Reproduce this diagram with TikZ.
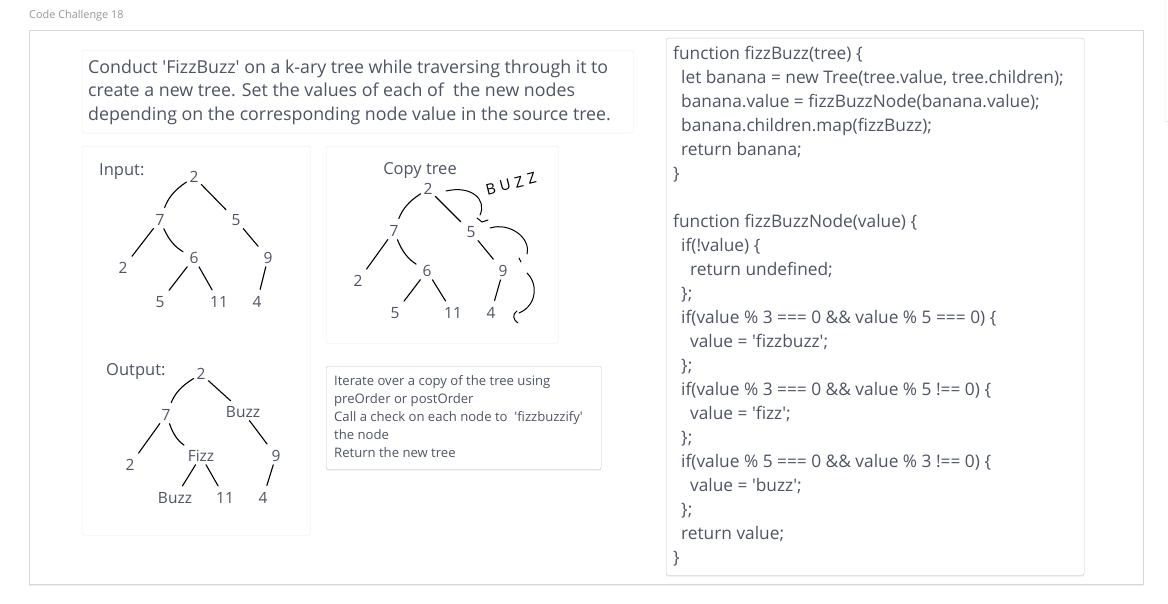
\documentclass[tikz,border=0pt]{standalone}
\usepackage{fontspec}
\setmainfont{Open Sans}[Ligatures={TeX,NoCommon}]
\usetikzlibrary{positioning}

\definecolor{inkgray}{RGB}{78,84,100}
\definecolor{titlegray}{RGB}{150,150,150}
\definecolor{cardline}{RGB}{216,216,216}
\definecolor{paneline}{RGB}{236,236,236}
\definecolor{boxline}{RGB}{200,200,200}

\newcommand{\sq}{\textquotesingle}

\tikzset{
  card/.style={draw=cardline, fill=white, rectangle, inner sep=0pt, anchor=north west},
  pane/.style={draw=paneline, fill=white, rectangle, rounded corners=1.5pt, inner sep=0pt, anchor=north west},
  box/.style={draw=boxline, fill=white, rectangle, rounded corners=2pt, inner sep=0pt, anchor=north west},
  shadowed/.style={preaction={fill=black, opacity=0.07, transform canvas={yshift=-1.5pt}}},
  tnode/.style={text=inkgray, font=\fontsize{15.5}{18}\selectfont, inner sep=2pt},
  tlabel/.style={text=inkgray, font=\fontsize{16.5}{19}\selectfont, inner sep=0pt},
  edge/.style={draw=black, line width=1.1pt, line cap=round, shorten >=5pt, shorten <=1pt},
  scrawl/.style={draw=black, line width=1pt, line cap=round},
}

\begin{document}
\begin{tikzpicture}[x=1pt, y=-1pt]
  \useasboundingbox (0,0) rectangle (1168,604);
  \fill[white] (0,0) rectangle (1168,604);

  % ---- page frame ----
  \node[anchor=west, text=titlegray, font=\fontsize{10.9}{12}\selectfont, inner sep=0pt]
    (title) at (29,16) {Code Challenge 18};
  \node[card, shadowed, minimum width=1114, minimum height=554] (card) at (29,30) {};
  \draw[cardline] (1165,0) -- (1165,121) -- (1168,122);

  % ---- task statement ----
  \node[pane, minimum width=551, minimum height=83] (intro) at (82,50) {};
  \node[anchor=west, align=left, text=inkgray, font=\fontsize{17.8}{23.5}\selectfont, inner sep=0pt]
    (introtxt) at (88,92) {Conduct \sq FizzBuzz\sq{} on a k-ary tree while traversing through it to\\
    create a new tree. Set the values of each of\ \ the new nodes\\
    depending on the corresponding node value in the source tree.};

  % ---- panes ----
  \node[pane, minimum width=228, minimum height=389] (iopane) at (82,146) {};
  \node[pane, minimum width=232, minimum height=197] (copypane) at (326,146) {};
  \node[box, shadowed, minimum width=275, minimum height=103] (note) at (326,366) {};
  \node[box, shadowed, minimum width=418, minimum height=537] (code) at (666,38) {};

  % ---- Input tree ----
  \node[tlabel, anchor=west] (inlbl) at (99,172) {Input:};
  \foreach \n/\x/\y/\t in {i2/194/177/2, i7/160/220/7, i5/236/220/5, i2b/123/268/2,
                           i6/194/258/6, i9/268/258/9, i5b/160/302/5, i11/219/302/11,
                           i4/257/302/4}
    \node[tnode] (\n) at (\x,\y) {\t};
  \draw[edge] (i2) to[bend right=18] (i7);
  \draw[edge] (i7) to[bend right=18] (i6);
  \foreach \a/\b in {i2/i5, i7/i2b, i5/i9, i6/i5b, i6/i11, i9/i4}
    \draw[edge] (\a) -- (\b);

  % ---- Output tree ----
  \node[tlabel, anchor=west] (outlbl) at (106,371) {Output:};
  \foreach \n/\x/\y/\t in {o2/201/374/2, o7/166/415/7, o5/243/412/Buzz, o2b/130/465/2,
                           o6/201/456/Fizz, o9/276/456/9, o5b/175/498/Buzz, o11/225/498/11,
                           o4/263/498/4}
    \node[tnode] (\n) at (\x,\y) {\t};
  \draw[edge] (o2) to[bend right=18] (o7);
  \draw[edge] (o7) to[bend right=18] (o6);
  \foreach \a/\b in {o2/o5, o7/o2b, o5/o9, o6/o5b, o6/o11, o9/o4}
    \draw[edge] (\a) -- (\b);

  % ---- Copy tree ----
  \node[tlabel] (copylbl) at (420,171) {Copy tree};
  \foreach \n/\x/\y/\t in {c2/428/189/2, c7/394/231/7, c5/471/232/5, c2b/358/281/2,
                           c6/427/271/6, c9/503/271/9, c5b/395/313/5, c11/453/313/11,
                           c4/491/313/4}
    \node[tnode] (\n) at (\x,\y) {\t};
  \draw[edge] (c2) to[bend right=18] (c7);
  \draw[edge] (c7) to[bend right=18] (c6);
  \foreach \a/\b in {c2/c5, c7/c2b, c5/c9, c6/c5b, c6/c11, c9/c4}
    \draw[edge] (\a) -- (\b);

  % hand-written notes
  \node[rotate=14, inner sep=0pt, font=\fontsize{15}{16}\selectfont\addfontfeature{LetterSpace=30}]
    (buzz) at (511,184) {BUZZ};
  \draw[scrawl] (446,191) .. controls (472,185) and (487,200) .. (480,215);
  \draw[scrawl] (477,218) -- (482,222) -- (488,220);
  \draw[scrawl] (490,228) .. controls (510,222) and (531,238) .. (527,254);
  \draw[scrawl] (519,258) -- (521,262);
  \draw[scrawl] (527,273) .. controls (539,285) and (536,306) .. (519,313);
  \draw[scrawl] (517,311) .. controls (512,314) and (513,320) .. (518,323);

  % ---- approach note ----
  \node[anchor=west, align=left, text=inkgray, font=\fontsize{13.1}{18}\selectfont, inner sep=0pt]
    (notetxt) at (334,417) {Iterate over a copy of the tree using\\
    preOrder or postOrder\\
    Call a check on each node to\ \ \sq fizzbuzzify\sq\\
    the node\\
    Return the new tree};

  % ---- code ----
  \node[anchor=west, align=left, text=inkgray, font=\fontsize{17.3}{24}\selectfont, inner sep=0pt]
    (codetxt) at (673,306) {function fizzBuzz(tree) \{\\
    \hspace*{8pt}let banana = new Tree(tree.value, tree.children);\\
    \hspace*{8pt}banana.value = fizzBuzzNode(banana.value);\\
    \hspace*{8pt}banana.children.map(fizzBuzz);\\
    \hspace*{8pt}return banana;\\
    \}\\
    \mbox{}\\
    function fizzBuzzNode(value) \{\\
    \hspace*{8pt}if(!value) \{\\
    \hspace*{17pt}return undefined;\\
    \hspace*{8pt}\};\\
    \hspace*{8pt}if(value \% 3 === 0 \&\& value \% 5 === 0) \{\\
    \hspace*{17pt}value = \sq fizzbuzz\sq;\\
    \hspace*{8pt}\};\\
    \hspace*{8pt}if(value \% 3 === 0 \&\& value \% 5 !== 0) \{\\
    \hspace*{17pt}value = \sq fizz\sq;\\
    \hspace*{8pt}\};\\
    \hspace*{8pt}if(value \% 5 === 0 \&\& value \% 3 !== 0) \{\\
    \hspace*{17pt}value = \sq buzz\sq;\\
    \hspace*{8pt}\};\\
    \hspace*{8pt}return value;\\
    \}};
\end{tikzpicture}
\end{document}
